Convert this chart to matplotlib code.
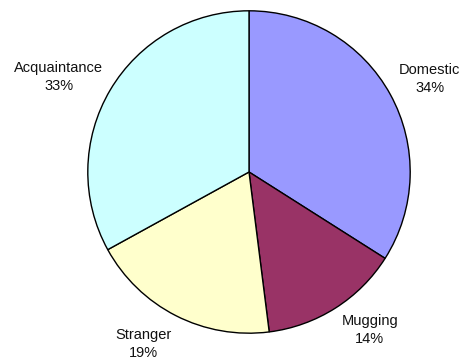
import matplotlib
matplotlib.use('Agg')
import matplotlib.pyplot as plt

# victim-offender relationship shares
categories = ["Domestic", "Mugging", "Stranger", "Acquaintance"]
shares = [34, 14, 19, 33]
colors = ["#9999FF", "#993366", "#FFFFCC", "#CCFFFF"]

# where each label block sits, in units of the pie radius
label_pos = [(1.12, 0.575), (0.75, -0.98), (-0.655, -1.065), (-1.18, 0.59)]

plt.rcParams['font.family'] = ['Liberation Sans', 'DejaVu Sans']

W, H = 473, 362
fig = plt.figure(figsize=(W / 100, H / 100), dpi=100)
cx, cy, r = 249, 172, 162
ax = fig.add_axes([(cx - r) / W, (H - cy - r) / H, 2 * r / W, 2 * r / H])

wedges, _ = ax.pie(shares, colors=colors, startangle=90, counterclock=False,
                   wedgeprops=dict(edgecolor='black', linewidth=1.0))

for c, v, (x, y) in zip(categories, shares, label_pos):
    ax.text(x, y, "%s\n%d%%" % (c, v), ha='center', va='center',
            multialignment='center', fontsize=10.5, color='#111111',
            linespacing=1.35, clip_on=False)

ax.set_xlim(-1.005, 1.005)
ax.set_ylim(-1.005, 1.005)
ax.set_aspect('equal')
ax.axis('off')

fig.savefig("out.png", dpi=100)
